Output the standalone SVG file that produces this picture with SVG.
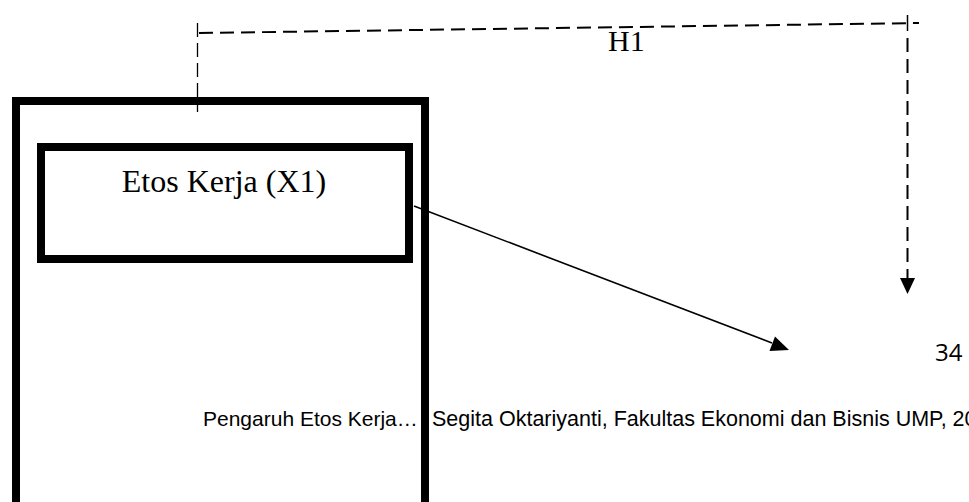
<svg xmlns="http://www.w3.org/2000/svg" width="969" height="502" viewBox="0 0 969 502">
<defs>
<style>
.box{fill:none;stroke:#000;stroke-width:8}
.dash{fill:none;stroke:#000;stroke-width:2;stroke-dasharray:14 7}
.thin{fill:none;stroke:#000;stroke-width:1.3;stroke-dasharray:14 6}
.serif{font-family:"Liberation Serif","Times New Roman",serif;fill:#000}
.sans{font-family:"Liberation Sans",Arial,sans-serif;fill:#000}
</style>
</defs>
<rect width="969" height="502" fill="#fff"/>
<g id="outer">
<path class="box" d="M16,510 V101 H425 V510"/>
</g>
<g id="etos">
<rect class="box" x="41" y="147" width="368" height="112"/>
<text class="serif" x="224" y="192" font-size="32" text-anchor="middle">Etos Kerja (X1)</text>
</g>
<g id="connectors">
<path class="thin" d="M197.5,23 V112"/>
<path class="dash" d="M199,33 L919,23"/>
<path fill="none" stroke="#000" stroke-width="1.5" d="M907.5,15 V31"/>
<path class="dash" d="M907.5,38 V278"/>
<path d="M900,278 L915,278 L907.5,294 Z" fill="#000"/>
<path fill="none" stroke="#000" stroke-width="1.6" d="M414,206 L772,343"/>
<path d="M789,350 L769.5,351 L775,336.5 Z" fill="#000"/>
<text class="serif" x="608" y="51" font-size="30">H1</text>
</g>
<g id="page">
<text x="935" y="361" font-size="24" font-family="'Open Sans','Noto Sans',sans-serif" fill="#000">34</text>
<text class="sans" x="203" y="426" font-size="21">Pengaruh Etos Kerja…</text>
<text class="sans" x="432" y="426" font-size="21.5">Segita Oktariyanti, Fakultas Ekonomi dan Bisnis UMP, 20</text>
</g>
</svg>
